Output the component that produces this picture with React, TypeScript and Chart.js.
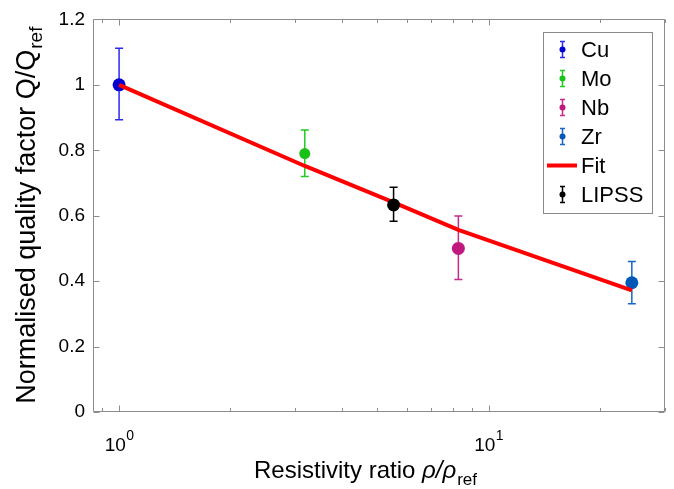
import React, { useEffect, useRef } from 'react';
import { Chart, registerables } from 'chart.js';

Chart.register(...registerables);

// ---- data ----
const categories = ['Cu', 'Mo', 'Nb', 'Zr', 'LIPSS'];
const ratioX = [1, 3.18, 8.28, 24.4, 5.53];
const qValues = [1.0, 0.79, 0.5, 0.395, 0.633];
const qErrLow = [0.893, 0.72, 0.405, 0.331, 0.583];
const qErrHigh = [1.112, 0.862, 0.599, 0.46, 0.687];
const markerColors = ['#0000d0', '#18c018', '#c0187f', '#0057b8', '#000000'];
const errColors = ['#2a2af0', '#22cc22', '#c82a8a', '#1a66c8', '#000000'];
const fitX = [1, 3.18, 5.53, 8.28, 24.4];
const fitY = [1.0, 0.752, 0.641, 0.557, 0.372];
const xMajorTicks = [1, 10];
const xMajorExp = ['0', '1'];
const xMinorTicks = [0.9, 2, 3, 4, 5, 6, 7, 8, 9, 20, 30];
const legendOrder = ['Cu', 'Mo', 'Nb', 'Zr', 'Fit', 'LIPSS'];

const family = '"Liberation Sans", Arial, Helvetica, sans-serif';
const axisGray = '#8c8c8c';

const customPlugin = {
  id: 'customDraw',
  beforeDatasetDraw(chart: any, args: any) {
    const ds = chart.data.datasets[args.index] as any;
    if (!ds.errLow) return;
    const ctx = chart.ctx;
    const xs = chart.scales.x;
    const ys = chart.scales.y;
    ctx.save();
    ctx.strokeStyle = ds.errColor;
    ctx.lineWidth = 1.5;
    ds.data.forEach((p: any, i: number) => {
      const px = xs.getPixelForValue(p.x);
      const top = ys.getPixelForValue(ds.errHigh[i]);
      const bot = ys.getPixelForValue(ds.errLow[i]);
      ctx.beginPath();
      ctx.moveTo(px, top);
      ctx.lineTo(px, bot);
      ctx.moveTo(px - 4, top);
      ctx.lineTo(px + 4, top);
      ctx.moveTo(px - 4, bot);
      ctx.lineTo(px + 4, bot);
      ctx.stroke();
    });
    ctx.restore();
  },
  afterDatasetsDraw(chart: any) {
    const ctx = chart.ctx;
    const a = chart.chartArea;
    const xs = chart.scales.x;
    const ys = chart.scales.y;
    const L = Math.round(a.left) + 0.5;
    const R = Math.round(a.right) - 0.5;
    const T = Math.round(a.top) + 0.5;
    const B = Math.round(a.bottom) - 0.5;
    ctx.save();
    ctx.strokeStyle = axisGray;
    ctx.lineWidth = 1;
    ctx.beginPath();
    ctx.rect(L, T, R - L, B - T);
    ctx.stroke();
    ctx.beginPath();
    // y ticks
    ys.ticks.forEach((t: any) => {
      const py = Math.round(ys.getPixelForValue(t.value)) + 0.5;
      ctx.moveTo(L, py);
      ctx.lineTo(L + 6, py);
      ctx.moveTo(R, py);
      ctx.lineTo(R - 6, py);
    });
    // x ticks
    const xt = (v: number, len: number) => {
      const px = Math.round(xs.getPixelForValue(v)) + 0.5;
      ctx.moveTo(px, B);
      ctx.lineTo(px, B - len);
      ctx.moveTo(px, T);
      ctx.lineTo(px, T + len);
    };
    xMajorTicks.forEach((v) => xt(v, 6));
    xMinorTicks.forEach((v) => xt(v, 3.5));
    ctx.stroke();

    // x tick labels with superscripts
    ctx.fillStyle = '#000';
    ctx.textBaseline = 'alphabetic';
    xMajorTicks.forEach((v, i) => {
      const px = xs.getPixelForValue(v);
      ctx.font = `19px ${family}`;
      const w1 = ctx.measureText('10').width;
      ctx.font = `14px ${family}`;
      const w2 = ctx.measureText(xMajorExp[i]).width;
      const start = px - (w1 + w2) / 2;
      ctx.font = `19px ${family}`;
      ctx.textAlign = 'left';
      ctx.fillText('10', start, 451);
      ctx.font = `14px ${family}`;
      ctx.fillText(xMajorExp[i], start + w1 + 0.5, 440);
    });

    // x title
    const cx = (a.left + a.right) / 2 - 14;
    const main = 'Resistivity ratio ';
    const rho = 'ρ/ρ';
    const sub = 'ref';
    ctx.font = `24px ${family}`;
    const wm = ctx.measureText(main).width;
    ctx.font = `italic 24px ${family}`;
    const wr = ctx.measureText(rho).width;
    ctx.font = `17px ${family}`;
    const ws = ctx.measureText(sub).width;
    let sx = cx - (wm + wr + ws) / 2;
    ctx.textAlign = 'left';
    ctx.font = `24px ${family}`;
    ctx.fillText(main, sx, 478);
    sx += wm;
    ctx.font = `italic 24px ${family}`;
    ctx.fillText(rho, sx, 478);
    sx += wr + 1;
    ctx.font = `17px ${family}`;
    ctx.fillText(sub, sx, 485);

    // y title (rotated)
    const cy = (a.top + a.bottom) / 2;
    const ymain = 'Normalised quality factor Q/Q';
    const ysub = 'ref';
    ctx.font = `27px ${family}`;
    const wym = ctx.measureText(ymain).width;
    ctx.font = `19px ${family}`;
    const wys = ctx.measureText(ysub).width;
    ctx.translate(35, cy);
    ctx.rotate(-Math.PI / 2);
    let ty = -(wym + wys) / 2;
    ctx.font = `27px ${family}`;
    ctx.fillText(ymain, ty, 0);
    ty += wym + 1;
    ctx.font = `19px ${family}`;
    ctx.fillText(ysub, ty, 7);
    ctx.restore();
  },
  afterDraw(chart: any) {
    const ctx = chart.ctx;
    ctx.save();
    const bx = 543.5, by = 32.5, bw = 109, bh = 181;
    ctx.fillStyle = '#fff';
    ctx.fillRect(bx, by, bw, bh);
    ctx.strokeStyle = '#8a8a8a';
    ctx.lineWidth = 1;
    ctx.strokeRect(bx, by, bw, bh);
    legendOrder.forEach((name, i) => {
      const cy = 49.5 + 29 * i;
      const ds = chart.data.datasets.find((d: any) => d.label === name) as any;
      if (name === 'Fit') {
        ctx.strokeStyle = ds.borderColor;
        ctx.lineWidth = 4;
        ctx.beginPath();
        ctx.moveTo(547, cy);
        ctx.lineTo(577, cy);
        ctx.stroke();
      } else {
        const ix = 562.5;
        ctx.strokeStyle = ds.errColor;
        ctx.lineWidth = 1.5;
        ctx.beginPath();
        ctx.moveTo(ix, cy - 8);
        ctx.lineTo(ix, cy + 8);
        ctx.moveTo(ix - 2.5, cy - 8);
        ctx.lineTo(ix + 2.5, cy - 8);
        ctx.moveTo(ix - 2.5, cy + 8);
        ctx.lineTo(ix + 2.5, cy + 8);
        ctx.stroke();
        ctx.fillStyle = ds.pointBackgroundColor;
        ctx.beginPath();
        ctx.arc(ix, cy, 3, 0, Math.PI * 2);
        ctx.fill();
      }
      ctx.fillStyle = '#000';
      ctx.font = `22px ${family}`;
      ctx.textAlign = 'left';
      ctx.textBaseline = 'middle';
      ctx.fillText(name, 581, cy + 1);
    });
    ctx.restore();
  },
};

export default function App() {
  const ref = useRef<HTMLCanvasElement>(null);
  useEffect(() => {
    document.body.style.margin = '0';
    document.body.style.overflow = 'hidden';
    const metalOrder: Record<string, number> = { Cu: 6, Mo: 5, Nb: 4, Zr: 3, LIPSS: 1 };
    const pointDatasets = categories.map((c, i) => ({
      label: c,
      data: [{ x: ratioX[i], y: qValues[i] }],
      errLow: [qErrLow[i]],
      errHigh: [qErrHigh[i]],
      errColor: errColors[i],
      pointBackgroundColor: markerColors[i],
      backgroundColor: markerColors[i],
      borderColor: markerColors[i],
      pointBorderWidth: 0,
      pointRadius: c === 'Mo' ? 5.5 : 6.5,
      showLine: false,
      order: metalOrder[c],
    }));
    const fitDataset = {
      label: 'Fit',
      data: fitX.map((x, i) => ({ x, y: fitY[i] })),
      borderColor: '#ff0000',
      backgroundColor: '#ff0000',
      borderWidth: 4,
      pointRadius: 0,
      showLine: true,
      tension: 0,
      order: 2,
    };
    const chart = new Chart(ref.current as HTMLCanvasElement, {
      type: 'scatter',
      data: { datasets: [...pointDatasets, fitDataset] as any },
      options: {
        animation: false,
        responsive: true,
        maintainAspectRatio: false,
        layout: { autoPadding: false, padding: { top: 18, right: 9, bottom: 0, left: 0 } },
        plugins: { legend: { display: false }, tooltip: { enabled: false } },
        scales: {
          x: {
            type: 'logarithmic',
            min: 0.85,
            max: 30,
            grid: { display: false, drawTicks: false },
            border: { display: false },
            ticks: { display: false },
            afterFit: (s: any) => {
              s.height = 77;
            },
          },
          y: {
            type: 'linear',
            min: 0,
            max: 1.2,
            grid: { display: false, drawTicks: false },
            border: { display: false },
            ticks: {
              stepSize: 0.2,
              padding: 8,
              color: '#000',
              font: { size: 19, family },
              callback: (v: any) => String(parseFloat(Number(v).toFixed(1))),
            },
            afterFit: (s: any) => {
              s.width = 93;
            },
          },
        },
      } as any,
      plugins: [customPlugin],
    });
    return () => chart.destroy();
  }, []);
  return (
    <div style={{ width: 674, height: 489, position: 'relative' }}>
      <canvas ref={ref} style={{ display: 'block' }} />
    </div>
  );
}
